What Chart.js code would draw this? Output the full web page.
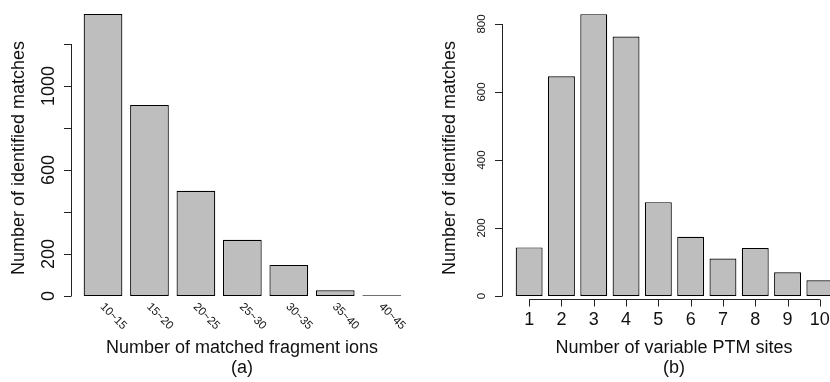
<!DOCTYPE html>
<html>
<head>
<meta charset="utf-8">
<script src="https://cdn.jsdelivr.net/npm/chart.js@4/dist/chart.umd.min.js"></script>
<style>
  html, body { margin: 0; padding: 0; background: #fff; }
  body { width: 830px; height: 382px; overflow: hidden; position: relative; }
  #chartA { position: absolute; left: 0; top: 0; }
  #chartB { position: absolute; left: 415px; top: 0; }
</style>
</head>
<body>
<canvas id="chartA" width="415" height="382"></canvas>
<canvas id="chartB" width="450" height="382"></canvas>
<script>
// panel (a): matched fragment ions
const fragmentLabels = ["10~15", "15~20", "20~25", "25~30", "30~35", "35~40", "40~45"];
const fragmentCounts = [1343, 909, 501, 268, 148, 27, 3];
const fragmentTicks = [0, 200, 400, 600, 800, 1000, 1200];
const fragmentTickLabels = [0, 200, 600, 1000];

// panel (b): variable PTM sites
const ptmSites = ["1", "2", "3", "4", "5", "6", "7", "8", "9", "10"];
const ptmCounts = [143, 646, 829, 763, 276, 174, 110, 141, 70, 46];
const ptmTicks = [0, 200, 400, 600, 800];
const ptmTickLabels = [0, 200, 400, 600, 800];

const FONT = "'Liberation Sans', Arial, Helvetica, sans-serif";

// R-style axes drawn from the chart's own scales
const rAxes = {
	id: "rAxes",
	afterDraw(chart, args, opts) {
		const ctx = chart.ctx;
		const area = chart.chartArea;
		const xs = chart.scales.x;
		const ys = chart.scales.y;
		ctx.save();
		ctx.strokeStyle = "#222";
		ctx.fillStyle = "#111";
		ctx.lineWidth = 1;

		// y axis
		const ax = Math.round(area.left - opts.yAxisGap) + 0.5;
		const yTop = ys.getPixelForValue(opts.yTicks[opts.yTicks.length - 1]);
		const yBot = ys.getPixelForValue(opts.yTicks[0]);
		ctx.beginPath();
		ctx.moveTo(ax, yTop);
		ctx.lineTo(ax, yBot);
		opts.yTicks.forEach((t) => {
			const py = Math.round(ys.getPixelForValue(t)) + 0.5;
			ctx.moveTo(ax, py);
			ctx.lineTo(ax - 7.5, py);
		});
		ctx.stroke();

		ctx.font = opts.yTickFont + "px " + FONT;
		ctx.textAlign = "center";
		ctx.textBaseline = "middle";
		opts.yTickLabels.forEach((t) => {
			const py = ys.getPixelForValue(t);
			ctx.save();
			ctx.translate(ax - opts.yLabelOffset, py);
			ctx.rotate(-Math.PI / 2);
			ctx.fillText(String(t), 0, 0);
			ctx.restore();
		});

		// x axis
		const labels = chart.data.labels;
		if (opts.xRotated) {
			ctx.font = "11.5px " + FONT;
			ctx.textAlign = "left";
			ctx.textBaseline = "middle";
			labels.forEach((lab, i) => {
				const px = xs.getPixelForValue(i);
				ctx.save();
				ctx.translate(px - 1, 305);
				ctx.rotate(Math.PI / 4);
				ctx.fillText(lab, 0, 0);
				ctx.restore();
			});
		} else {
			const x0 = xs.getPixelForValue(0);
			const x1 = xs.getPixelForValue(labels.length - 1);
			ctx.beginPath();
			ctx.moveTo(x0, 299.5);
			ctx.lineTo(x1, 299.5);
			labels.forEach((lab, i) => {
				const px = Math.round(xs.getPixelForValue(i)) + 0.5;
				ctx.moveTo(px, 299.5);
				ctx.lineTo(px, 306.5);
			});
			ctx.stroke();
			ctx.font = "18px " + FONT;
			ctx.textAlign = "center";
			ctx.textBaseline = "middle";
			labels.forEach((lab, i) => {
				ctx.fillText(lab, xs.getPixelForValue(i), 320);
			});
		}

		// titles
		ctx.font = "18px " + FONT;
		ctx.textAlign = "center";
		ctx.textBaseline = "middle";
		ctx.fillText(opts.xTitle, opts.centerX, 348);
		ctx.fillText(opts.panel, opts.centerX, 368);
		ctx.save();
		ctx.translate(opts.yTitleX, 158);
		ctx.rotate(-Math.PI / 2);
		ctx.fillText("Number of identified matches", 0, 0);
		ctx.restore();

		ctx.restore();
	},
};

function makeBars(id, labels, values, yMax, padding, axes) {
	return new Chart(document.getElementById(id), {
		type: "bar",
		data: {
			labels: labels,
			datasets: [
				{
					data: values,
					backgroundColor: "#bebebe",
					borderColor: "#000",
					borderWidth: 1.2,
					borderSkipped: false,
					barPercentage: 1,
					categoryPercentage: 1 / 1.2,
				},
			],
		},
		options: {
			responsive: false,
			animation: false,
			layout: { padding: padding },
			plugins: {
				legend: { display: false },
				tooltip: { enabled: false },
				rAxes: axes,
			},
			scales: {
				x: { display: false },
				y: { display: false, min: 0, max: yMax },
			},
		},
		plugins: [rAxes],
	});
}

makeBars("chartA", fragmentLabels, fragmentCounts, 1400,
	{ left: 79.8, right: 10.1, top: 2, bottom: 86 },
	{
		yTicks: fragmentTicks,
		yTickLabels: fragmentTickLabels,
		yTickFont: 18,
		yLabelOffset: 22,
		yAxisGap: 8.8,
		xRotated: true,
		xTitle: "Number of matched fragment ions",
		panel: "(a)",
		centerX: 242,
		yTitleX: 19,
	});

makeBars("chartB", ptmSites, ptmCounts, 850,
	{ left: 98, right: 29, top: 7, bottom: 86 },
	{
		yTicks: ptmTicks,
		yTickLabels: ptmTickLabels,
		yTickFont: 11.5,
		yLabelOffset: 21,
		yAxisGap: 10.7,
		xRotated: false,
		xTitle: "Number of variable PTM sites",
		panel: "(b)",
		centerX: 259,
		yTitleX: 35,
	});
</script>
</body>
</html>
